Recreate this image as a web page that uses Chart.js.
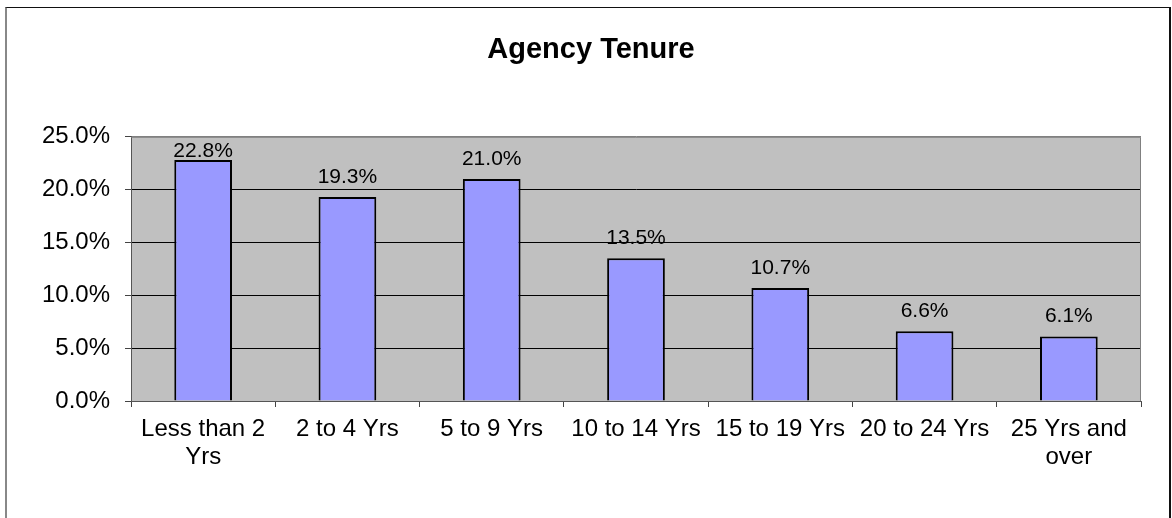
<!DOCTYPE html>
<html>
<head>
<meta charset="utf-8">
<title>Agency Tenure</title>
<script src="https://cdn.jsdelivr.net/npm/chart.js@4.4.1/dist/chart.umd.min.js"></script>
<style>
    html, body { margin: 0; padding: 0; background: #fff; overflow: hidden; }
    #wrap { position: relative; width: 1172px; height: 518px; }
    #frame {
        position: absolute; left: 5px; top: 7px; width: 1162px; height: 600px;
        border-top: 1px solid #111; border-left: 2px solid #888; border-right: 2px solid #111;
        pointer-events: none;
    }
</style>
</head>
<body>
<div id="wrap">
    <canvas id="tenureChart" width="1172" height="518"></canvas>
    <div id="frame"></div>
</div>
<script>
// chart data
const categories = [['Less than 2', 'Yrs'], '2 to 4 Yrs', '5 to 9 Yrs', '10 to 14 Yrs', '15 to 19 Yrs', '20 to 24 Yrs', ['25 Yrs and', 'over']];
const tenurePct = [22.8, 19.3, 21.0, 13.5, 10.7, 6.6, 6.1];
const yTicks = [0, 5, 10, 15, 20, 25];

const FONT = "'Liberation Sans', Arial, sans-serif";

// grey plot area with a thin border, like the spreadsheet original
const plotBackground = {
    id: 'plotBackground',
    beforeDraw(chart) {
        const { ctx, chartArea: a } = chart;
        ctx.save();
        ctx.fillStyle = '#c0c0c0';
        ctx.fillRect(a.left, a.top, a.right - a.left, a.bottom - a.top);
        ctx.restore();
    },
    afterDraw(chart) {
        const { ctx, chartArea: a } = chart;
        ctx.save();
        ctx.strokeStyle = '#808080';
        ctx.lineWidth = 1;
        ctx.beginPath();
        ctx.moveTo(a.left, a.top + 0.5);
        ctx.lineTo(a.right - 0.5, a.top + 0.5);
        ctx.lineTo(a.right - 0.5, a.bottom);
        ctx.stroke();
        ctx.restore();
    }
};

// value labels above each bar
const barLabels = {
    id: 'barLabels',
    afterDatasetsDraw(chart) {
        const { ctx, chartArea } = chart;
        const meta = chart.getDatasetMeta(0);
        ctx.save();
        ctx.font = '21px ' + FONT;
        ctx.fillStyle = '#000';
        ctx.textAlign = 'center';
        ctx.textBaseline = 'middle';
        meta.data.forEach((bar, i) => {
            const y = Math.max(bar.y - 20, chartArea.top + 14);
            ctx.fillText(tenurePct[i].toFixed(1) + '%', bar.x, y);
        });
        ctx.restore();
    }
};

const ctx = document.getElementById('tenureChart').getContext('2d');
new Chart(ctx, {
    type: 'bar',
    data: {
        labels: categories,
        datasets: [{
            data: tenurePct,
            backgroundColor: '#9999ff',
            borderColor: '#000',
            borderWidth: 2,
            barPercentage: 0.4,
            categoryPercentage: 1.0
        }]
    },
    options: {
        responsive: false,
        animation: false,
        devicePixelRatio: 1,
        layout: { padding: { left: 41, right: 31, top: 0, bottom: 0 } },
        plugins: {
            legend: { display: false },
            tooltip: { enabled: false },
            title: {
                display: true,
                text: 'Agency Tenure',
                color: '#000',
                font: { family: FONT, size: 29, weight: 'bold' },
                padding: { top: 33, bottom: 69 }
            }
        },
        scales: {
            x: {
                offset: true,
                grid: {
                    offset: true,
                    drawOnChartArea: false,
                    drawTicks: true,
                    tickLength: 6,
                    tickColor: '#444'
                },
                border: { color: '#555', width: 1 },
                ticks: {
                    color: '#000',
                    padding: 8,
                    maxRotation: 0,
                    autoSkip: false,
                    font: { family: FONT, size: 24, lineHeight: '28px' }
                },
                afterFit(scale) { scale.height = 117; }
            },
            y: {
                min: 0,
                max: 25,
                afterBuildTicks(scale) { scale.ticks = yTicks.map(v => ({ value: v })); },
                grid: {
                    color: c => (c.tick && c.tick.value === 25 ? '#808080' : '#000'),
                    tickColor: '#444',
                    tickLength: 6
                },
                border: { color: '#555', width: 1 },
                ticks: {
                    color: '#000',
                    padding: 15,
                    font: { family: FONT, size: 24 },
                    callback: v => Number(v).toFixed(1) + '%'
                },
                afterFit(scale) { scale.width = 90; }
            }
        }
    },
    plugins: [plotBackground, barLabels]
});
</script>
</body>
</html>
